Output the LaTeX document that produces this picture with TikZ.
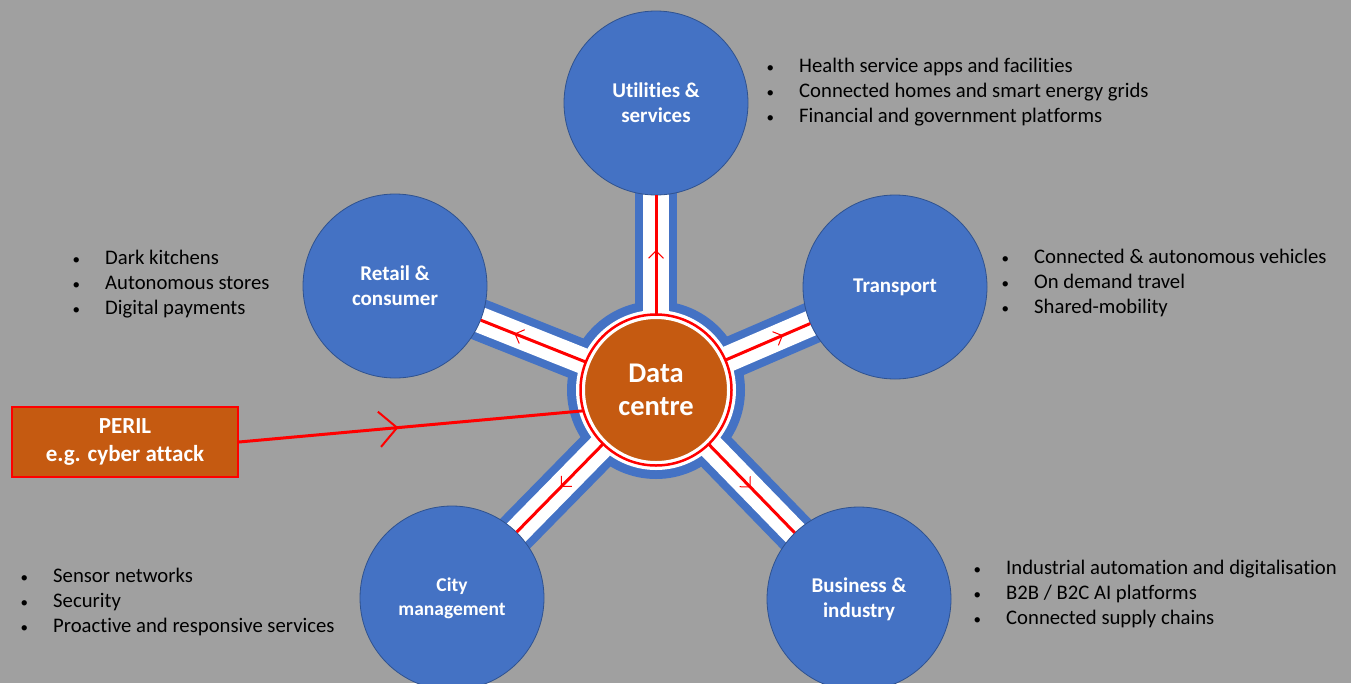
\documentclass[tikz,border=0pt]{standalone}
\usepackage{fontspec}
\setmainfont{Carlito}[Ligatures={TeX,NoCommon}]
\usepackage{tikz}
\usetikzlibrary{arrows.meta,decorations.markings}
\usetikzlibrary{backgrounds,positioning}

\definecolor{slate}{RGB}{160,160,160}
\definecolor{secblue}{RGB}{68,114,196}
\definecolor{secedge}{RGB}{47,82,143}
\definecolor{rust}{RGB}{197,90,17}

% bullet list: name, x of text, first baseline, entries
\newcommand{\bulletlist}[4]{%
  \foreach \entry [count=\i] in {#4}
    \node[note] (#1\i) at (#2, #3+\i*25.3-25.3)
      {\llap{{\fontsize{15}{15}\selectfont\textbullet}\hspace{25pt}}\entry};}

\begin{document}
\begin{tikzpicture}
    [x=1pt, y=-1pt,
    sector/.style={circle, fill=secblue, draw=secedge, line width=0.8pt,
      minimum size=184pt, inner sep=0pt, text=white, align=center,
      font=\fontsize{21}{25}\selectfont\bfseries},
    hub/.style={circle, fill=rust, draw=white, line width=3pt,
      minimum size=145pt, outer sep=3pt, inner sep=0pt, text=white,
      align=center, font=\fontsize{28.5}{33}\selectfont\bfseries},
    hazard/.style={rectangle, fill=rust, draw=red, line width=2pt,
      minimum width=226pt, minimum height=70pt, text=white, align=center,
      font=\fontsize{23}{27.5}\selectfont\bfseries},
    note/.style={anchor=base west, inner sep=0pt,
      font=\fontsize{20.7}{25}\selectfont},
    flow/.style={red, line width=3pt, postaction={decorate,
      decoration={markings, mark=at position #1 with
      {\pgfsetlinewidth{1pt}\arrow{Straight Barb[angle=90:10.5pt]}}}}},
    attack/.style={red, line width=3pt, postaction={decorate,
      decoration={markings, mark=at position #1 with
      {\pgfsetlinewidth{2pt}\arrow{Straight Barb[angle=90:25pt]}}}}}]

  \useasboundingbox (0,0) rectangle (1351,683);

  \node[sector] (util) at (656,103) {Utilities \&\\services};
  \node[sector] (retail) at (395,286) {Retail \&\\consumer};
  \node[sector] (trans) at (895,287) {\raisebox{-3pt}{Transport}};
  \node[sector, font=\fontsize{19.5}{24}\selectfont\bfseries] (city) at (452,598) {City\\management};
  \node[sector] (biz) at (859,599) {Business \&\\industry};

  \node[hub] (dc) at (656,390) {Data\\centre};
  \node[hazard] (peril) at (125,442) {PERIL\\e.g. cyber attack};

  \begin{scope}[on background layer]
    \fill[slate] (0,0) rectangle (1351,683);
    \foreach \s in {util,retail,trans,city,biz}
      \draw[secblue, line width=42pt] (dc.center) -- (\s.center);
    \fill[secblue] (dc.center) circle (89pt);
    \foreach \s in {util,retail,trans,city,biz}
      \draw[white, line width=26pt] (dc.center) -- (\s.center);
    \fill[white] (dc.center) circle (80pt);
  \end{scope}

  \draw[red, line width=2.5pt] (dc.center) circle (75.5pt);
  \draw[flow=0.54] (dc) -- (util);
  \draw[flow=0.68] (dc) -- (retail);
  \draw[flow=0.68] (dc) -- (trans);
  \draw[flow=0.49] (dc) -- (city);
  \draw[flow=0.49] (dc) -- (biz);

  \draw[attack=0.463] (peril.east) -- (dc.196);

  \bulletlist{un}{799}{72}{Health service apps and facilities, Connected homes and smart energy grids, Financial and government platforms}
  \bulletlist{rn}{105}{264}{Dark kitchens, Autonomous stores, Digital payments}
  \bulletlist{tn}{1034}{263}{Connected \& autonomous vehicles, On demand travel, Shared-mobility}
  \bulletlist{cn}{53}{582}{Sensor networks, Security, Proactive and responsive services}
  \bulletlist{bn}{1006}{574}{Industrial automation and digitalisation, B2B / B2C AI platforms, Connected supply chains}

\end{tikzpicture}
\end{document}
